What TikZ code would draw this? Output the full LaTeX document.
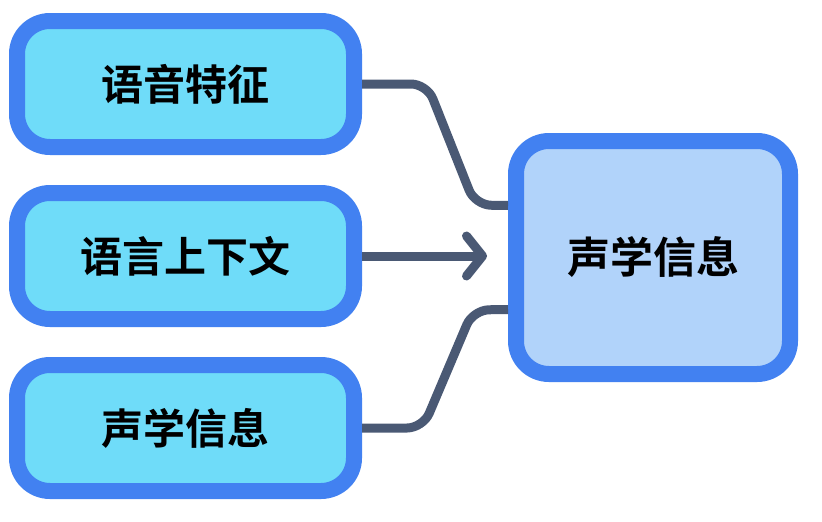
\documentclass[tikz,border=0pt]{standalone}
\usepackage{fontspec}
\usepackage{xcolor}
\usetikzlibrary{arrows.meta}
\newfontfamily\cjk{Noto Sans CJK SC}[BoldFont={Noto Sans CJK SC Bold}]
\definecolor{sgbCyan}{HTML}{6FDCF9}
\definecolor{sgbSky}{HTML}{B1D3FA}
\definecolor{pBlue}{HTML}{4281F1}
\definecolor{pSlate}{HTML}{4A5974}

\begin{document}
\begin{tikzpicture}[x=1pt,y=-1pt]
    \pgfmathsetmacro{\r}{33}
    \tikzset{
        srcbox/.style={draw=pBlue,fill=sgbCyan,line width=16pt,rounded corners=\r pt,
            minimum width=337pt,minimum height=126pt,font=\cjk\bfseries\fontsize{42}{46}\selectfont},
        dstbox/.style={draw=pBlue,fill=sgbSky,line width=16pt,rounded corners=\r pt,
            minimum width=274pt,minimum height=233pt,font=\cjk\bfseries\fontsize{43}{47}\selectfont},
        link/.style={draw=pSlate,line width=9pt,rounded corners=16pt,line cap=butt}
    };
    \useasboundingbox (0,0) rectangle (822,522);
    \node[srcbox] (feat) at (185.5,84) {语音特征};
    \node[srcbox] (ctx) at (185.5,256) {语言上下文};
    \node[srcbox] (acou) at (185.5,428) {声学信息};
    \node[dstbox] (out) at (653,257.5) {声学信息};
    \coordinate (inTop) at ([yshift=52pt]out.west);
    \coordinate (inBot) at ([yshift=-52pt]out.west);
    \draw[link] (feat.east) -- (427,84) -- (475,205) -- (inTop);
    \draw[link] (acou.east) -- (423,428) -- (473,310) -- (inBot);
    \draw[link,-{Straight Barb[length=16pt,width=40pt,round]}] (ctx.east) -- ([xshift=-21pt]ctx.east -| out.west);
\end{tikzpicture}
\end{document}
